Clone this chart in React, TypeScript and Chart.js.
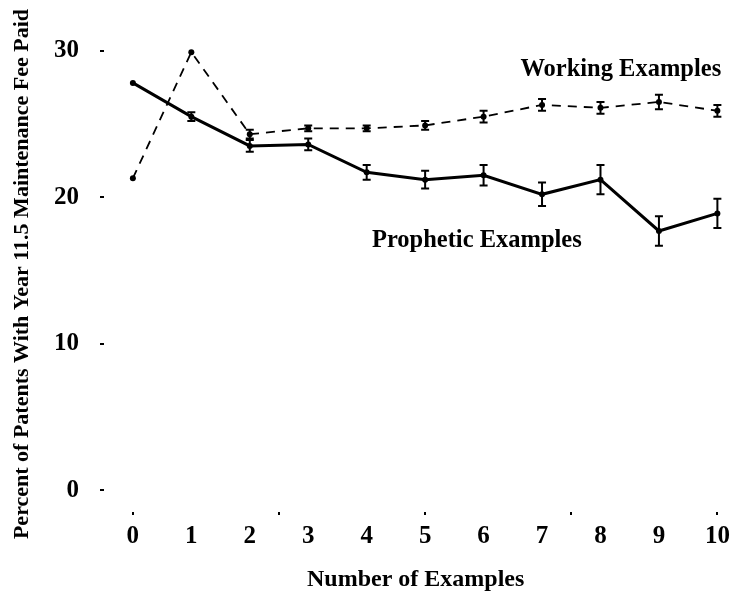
import { useEffect, useRef } from "react";
import { Chart, registerables } from "chart.js";

Chart.register(...registerables);

const examples = [0, 1, 2, 3, 4, 5, 6, 7, 8, 9, 10];
const prophetic = [27.8, 25.5, 23.5, 23.6, 21.7, 21.2, 21.5, 20.2, 21.2, 17.7, 18.9];
const propheticErr = [0, 0.3, 0.4, 0.4, 0.5, 0.6, 0.7, 0.8, 1.0, 1.0, 1.0];
const working = [21.3, 29.9, 24.3, 24.7, 24.7, 24.9, 25.5, 26.3, 26.1, 26.5, 25.9];
const workingErr = [0, 0, 0.3, 0.2, 0.2, 0.3, 0.4, 0.4, 0.4, 0.5, 0.4];
const yTicks = [0, 10, 20, 30];
const xTicks = [0, 1, 2, 2.5, 3, 4, 5, 6, 7, 7.5, 8, 9, 10];
const xMarks = [0, 2.5, 5, 7.5, 10];
const seriesNames = ["Prophetic Examples", "Working Examples"];
const errs = [propheticErr, workingErr];

const SERIF = "'Liberation Serif', 'Times New Roman', serif";

const errorBarPlugin = {
  id: "errorBars",
  afterDatasetsDraw(chart: any) {
    const { ctx } = chart;
    const yScale = chart.scales.y;
    chart.data.datasets.forEach((ds: any, di: number) => {
      const meta = chart.getDatasetMeta(di);
      const e = errs[di];
      meta.data.forEach((pt: any, i: number) => {
        const err = e[i];
        if (!err) return;
        const v = ds.data[i].y;
        const top = yScale.getPixelForValue(v + err);
        const bot = yScale.getPixelForValue(v - err);
        ctx.save();
        ctx.strokeStyle = "#000";
        ctx.lineWidth = 2;
        ctx.setLineDash([]);
        ctx.beginPath();
        ctx.moveTo(pt.x, top);
        ctx.lineTo(pt.x, bot);
        ctx.moveTo(pt.x - 4, top);
        ctx.lineTo(pt.x + 4, top);
        ctx.moveTo(pt.x - 4, bot);
        ctx.lineTo(pt.x + 4, bot);
        ctx.stroke();
        ctx.restore();
      });
    });
  },
};

const labelPlugin = {
  id: "seriesLabels",
  afterDraw(chart: any) {
    const { ctx } = chart;
    const xs = chart.scales.x;
    const ys = chart.scales.y;
    const spots = [
      { text: seriesNames[0], x: 4.09, y: 16.6 },
      { text: seriesNames[1], x: 6.63, y: 28.3 },
    ];
    ctx.save();
    ctx.fillStyle = "#000";
    ctx.font = `bold 24.5px ${SERIF}`;
    ctx.textAlign = "left";
    ctx.textBaseline = "alphabetic";
    spots.forEach((s) => {
      ctx.fillText(s.text, xs.getPixelForValue(s.x), ys.getPixelForValue(s.y));
    });
    ctx.restore();
  },
};

export default function App() {
  const canvasRef = useRef<HTMLCanvasElement | null>(null);

  useEffect(() => {
    if (!canvasRef.current) return;
    const chart = new Chart(canvasRef.current, {
      type: "line",
      data: {
        datasets: [
          {
            label: seriesNames[0],
            data: examples.map((x, i) => ({ x, y: prophetic[i] })),
            borderColor: "#000",
            backgroundColor: "#000",
            borderWidth: 3,
            pointRadius: 3,
            pointBackgroundColor: "#000",
            pointBorderWidth: 0,
            tension: 0,
          },
          {
            label: seriesNames[1],
            data: examples.map((x, i) => ({ x, y: working[i] })),
            borderColor: "#000",
            backgroundColor: "#000",
            borderWidth: 1.8,
            borderDash: [9, 7],
            pointRadius: 3,
            pointBackgroundColor: "#000",
            pointBorderWidth: 0,
            tension: 0,
          },
        ],
      },
      options: {
        animation: false,
        responsive: true,
        maintainAspectRatio: false,
        devicePixelRatio: 1,
        layout: { padding: { top: 26, right: 7, left: 0, bottom: 0 } },
        plugins: {
          legend: { display: false },
          tooltip: { enabled: false },
        },
        scales: {
          x: {
            type: "linear",
            min: -0.494,
            max: 10.17,
            afterBuildTicks: (s: any) => {
              s.ticks = xTicks.map((v) => ({ value: v }));
            },
            afterFit: (s: any) => {
              s.height = 82;
            },
            ticks: {
              autoSkip: false,
              maxRotation: 0,
              color: "#000",
              padding: 7,
              font: { family: SERIF, size: 25, weight: "bold" },
              callback: (v: any) => (Number.isInteger(v) ? String(v) : ""),
            },
            grid: {
              drawOnChartArea: false,
              drawTicks: true,
              tickLength: 3,
              lineWidth: 2,
              color: (c: any) =>
                c.tick && xMarks.includes(c.tick.value) ? "#000" : "rgba(0,0,0,0)",
            },
            border: { display: false },
            title: {
              display: true,
              text: "Number of Examples",
              color: "#000",
              font: { family: SERIF, size: 24, weight: "bold" },
              padding: { top: 0, bottom: 0 },
            },
          },
          y: {
            type: "linear",
            min: -1.47,
            max: 31,
            afterBuildTicks: (s: any) => {
              s.ticks = yTicks.map((v) => ({ value: v }));
            },
            afterFit: (s: any) => {
              s.width = 104;
            },
            ticks: {
              color: "#000",
              padding: 21,
              font: { family: SERIF, size: 25, weight: "bold" },
            },
            grid: {
              drawOnChartArea: false,
              drawTicks: true,
              tickLength: 4,
              lineWidth: 2,
              color: "#000",
            },
            border: { display: false },
            title: {
              display: true,
              text: "Percent of Patents With Year 11.5 Maintenance Fee Paid",
              color: "#000",
              font: { family: SERIF, size: 22, weight: "bold" },
              padding: { top: 9, bottom: 0 },
            },
          },
        },
      },
      plugins: [errorBarPlugin, labelPlugin],
    });
    return () => chart.destroy();
  }, []);

  return (
    <div
      style={{
        position: "absolute",
        left: 0,
        top: 0,
        width: 737,
        height: 594,
        background: "#fff",
      }}
    >
      <canvas ref={canvasRef} />
    </div>
  );
}
